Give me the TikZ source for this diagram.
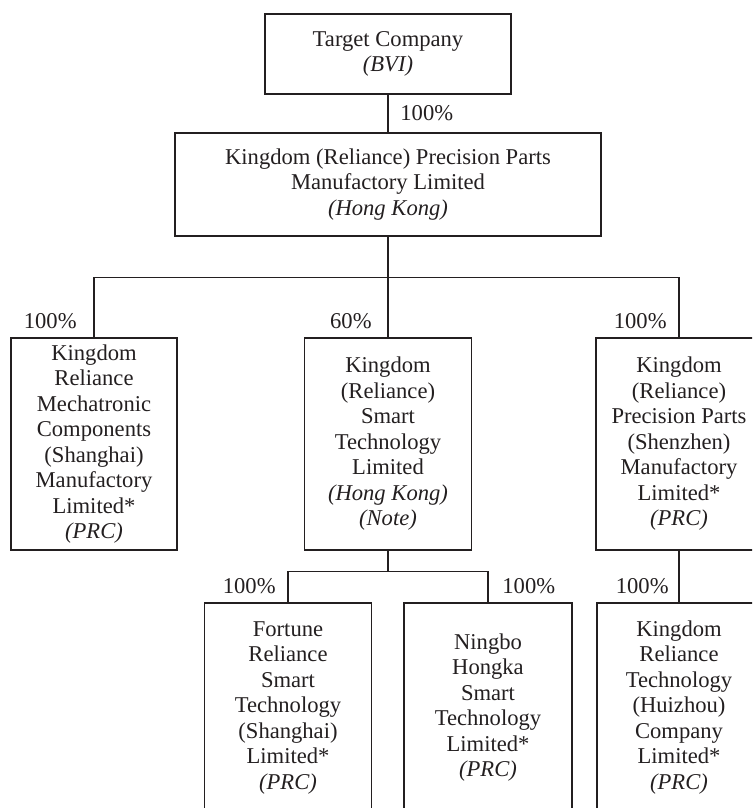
\documentclass[tikz,border=0pt]{standalone}
\usepackage{fontspec}
\setmainfont{Liberation Serif}
\usepackage{tikz}
\usetikzlibrary{positioning}
\usepackage{xcolor}
\definecolor{cLine}{HTML}{231F20}
\definecolor{cText}{HTML}{231F20}

\begin{document}
\begin{tikzpicture}[x=0.5pt, y=-0.5pt,
    entity/.style={
        rectangle, draw=cLine, line width=0.65pt, inner sep=0pt,
        minimum width=#1, align=center, text=cText,
        font=\fontsize{11.3}{12.75}\selectfont
    },
    pct/.style={
        inner sep=0pt, text=cText,
        font=\fontsize{11.3}{12.75}\selectfont
    },
    link/.style={line width=0.65pt, color=cLine},
]

% Frame of the picture
\useasboundingbox (0,0) rectangle (752,808);
\clip (0,0) rectangle (752,808);

% Top – Target and Hong Kong holding
\node[entity=123pt, minimum height=40pt] (target) at (388,54)
    {Target Company\\\textit{(BVI)}};
\node[entity=213pt, minimum height=51.5pt] (parts) at (388,184.5)
    {Kingdom (Reliance) Precision Parts\\Manufactory Limited\\\textit{(Hong Kong)}};

% Middle row – direct subsidiaries
\node[entity=83pt, minimum height=106pt] (mech) at (94,444)
    {Kingdom\\Reliance\\Mechatronic\\Components\\(Shanghai)\\Manufactory\\Limited*\\\textit{(PRC)}};
\node[entity=83.5pt, minimum height=106pt] (smart) at (388,444)
    {Kingdom\\(Reliance)\\Smart\\Technology\\Limited\\\textit{(Hong Kong)}\\\textit{(Note)}};
\node[entity=83pt, minimum height=106pt] (shenzhen) at (679,444)
    {Kingdom\\(Reliance)\\Precision Parts\\(Shenzhen)\\Manufactory\\Limited*\\\textit{(PRC)}};

% Bottom row – second-tier subsidiaries
\node[entity=83.5pt, minimum height=104.5pt] (fortune) at (288,707.5)
    {Fortune\\Reliance\\Smart\\Technology\\(Shanghai)\\Limited*\\\textit{(PRC)}};
\node[entity=84pt, minimum height=104.5pt] (ningbo) at (488,707.5)
    {Ningbo\\Hongka\\Smart\\Technology\\Limited*\\\textit{(PRC)}};
\node[entity=82pt, minimum height=104.5pt] (huizhou) at (679,707.5)
    {Kingdom\\Reliance\\Technology\\(Huizhou)\\Company\\Limited*\\\textit{(PRC)}};

% Shareholdings
\node[pct, anchor=west] (pTarget) at (400,113) {100\%};
\node[pct, anchor=east] (pMech)   at (77,321)  {100\%};
\node[pct, anchor=east] (pSmart)  at (372,321) {60\%};
\node[pct, anchor=east] (pShen)   at (667,321) {100\%};
\node[pct, anchor=east] (pFort)   at (276,586) {100\%};
\node[pct, anchor=west] (pNing)   at (502,586) {100\%};
\node[pct, anchor=east] (pHui)    at (669,586) {100\%};

% Connectors
\draw[link] (target.south) -- (parts.north);
\draw[link] (parts.south) -- ++(0,41) -| (mech.north);
\draw[link] (parts.south) -- (smart.north);
\draw[link] (parts.south) -- ++(0,41) -| (shenzhen.north);
\draw[link] (smart.south) -- ++(0,21) -| (fortune.north);
\draw[link] (smart.south) -- ++(0,21) -| (ningbo.north);
\draw[link] (shenzhen.south) -- (huizhou.north);

\end{tikzpicture}
\end{document}
